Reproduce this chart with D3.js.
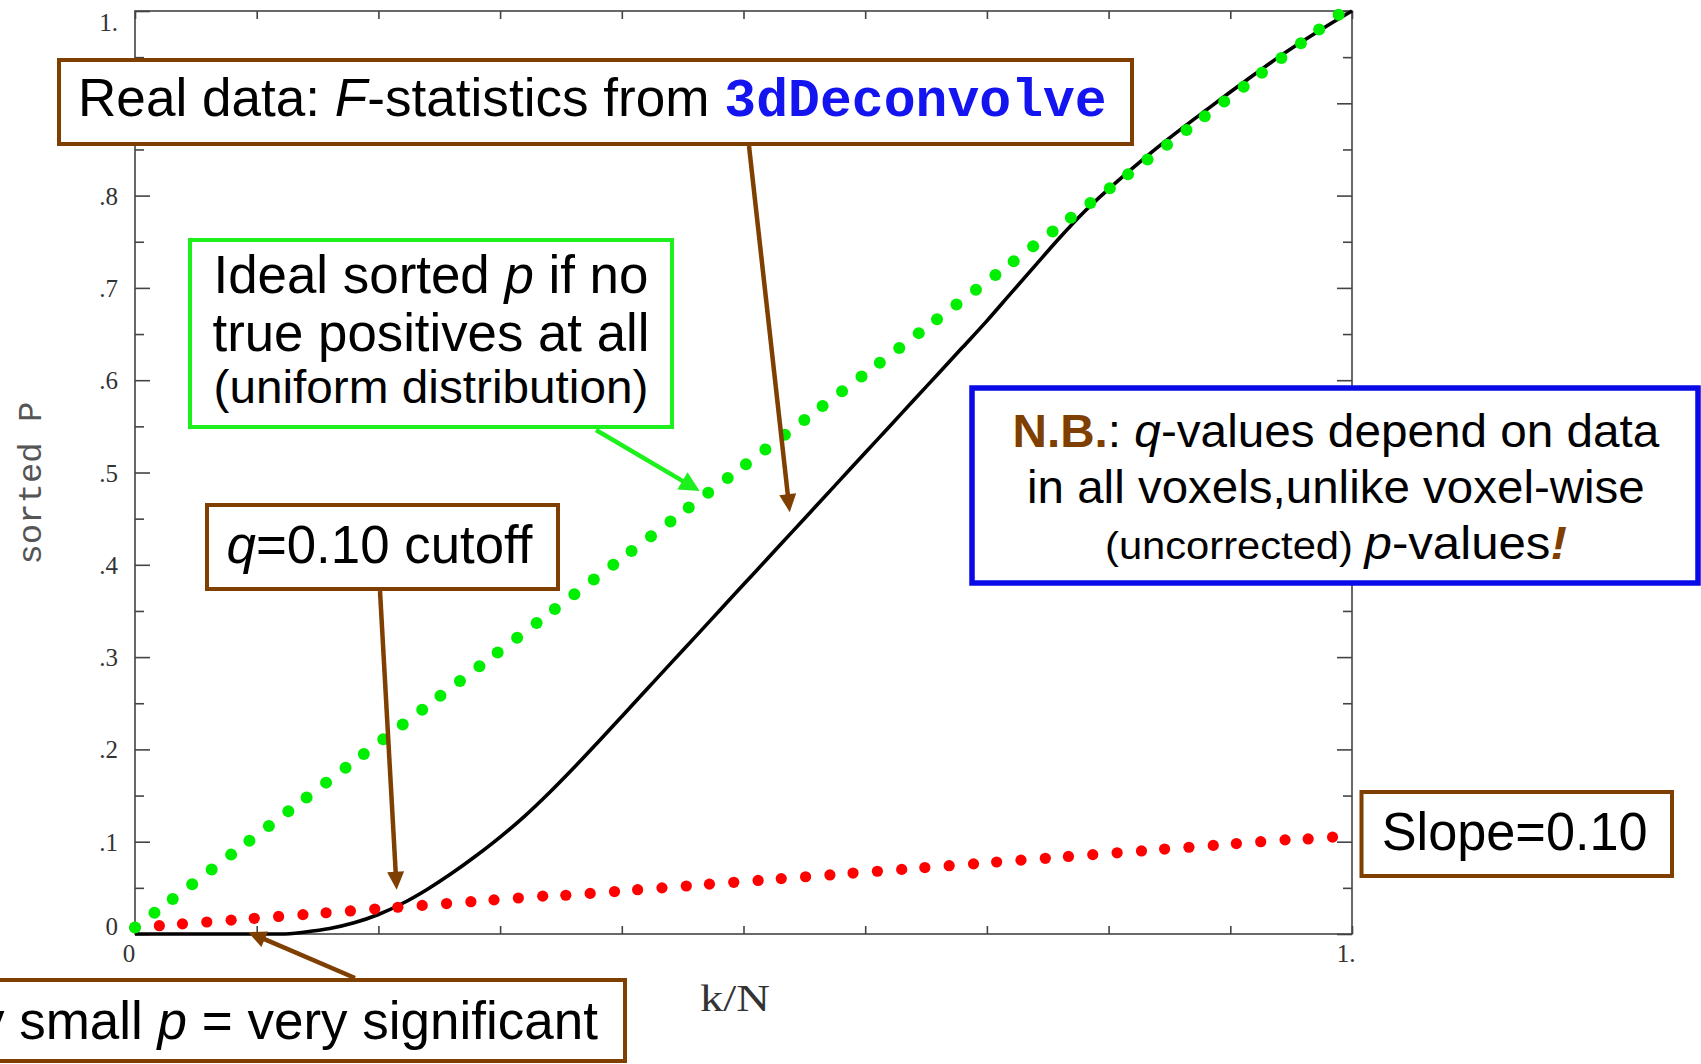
<!DOCTYPE html>
<html><head><meta charset="utf-8">
<script src="https://cdn.jsdelivr.net/npm/d3@7"></script>
<style>html,body{margin:0;padding:0;background:#fff;overflow:hidden} text{white-space:pre}</style>
</head><body>
<svg id="chart" width="1701" height="1064"></svg>
<script>
// ---------- data ----------
// real data: sorted p-values from 3dDeconvolve F-statistics (k/N, p)
const curveX = [0,0.05,0.10,0.12,0.14,0.16,0.18,0.20,0.22,0.24,0.26,0.28,0.30,0.32,0.34,0.36,0.38,0.40,0.42,0.44,0.46,0.48,0.50,0.52,0.54,0.56,0.58,0.60,0.62,0.64,0.66,0.68,0.70,0.72,0.74,0.76,0.78,0.80,0.82,0.84,0.86,0.88,0.90,0.92,0.94,0.96,0.98,1.00];
const curveY = [0,0,0,0,0.0022,0.0059,0.0121,0.0211,0.0333,0.0483,0.0655,0.0845,0.105,0.1275,0.1525,0.1793,0.2073,0.2357,0.2643,0.2929,0.3214,0.35,0.3786,0.4071,0.4357,0.4642,0.4928,0.5214,0.5499,0.5785,0.607,0.6356,0.6643,0.6946,0.7247,0.7546,0.7825,0.8070,0.8300,0.8520,0.8726,0.8925,0.9122,0.9314,0.9503,0.9677,0.9843,1.0];

// ideal sorted p (uniform distribution) - green dots
const uniformX = [0,0.016,0.031,0.047,0.063,0.079,0.094,0.110,0.126,0.141,
  0.157,0.173,0.188,0.204,0.220,0.236,0.251,0.267,0.283,0.298,
  0.314,0.330,0.345,0.361,0.377,0.393,0.408,0.424,0.440,0.455,
  0.471,0.487,0.502,0.518,0.534,0.550,0.565,0.581,0.597,0.612,
  0.628,0.644,0.659,0.675,0.691,0.707,0.722,0.738,0.754,0.769,
  0.785,0.801,0.816,0.832,0.848,0.864,0.879,0.895,0.911,0.926,
  0.942,0.958,0.973,0.989];
const uniformY = [0.007,0.023,0.038,0.054,0.070,0.086,0.101,0.117,0.133,0.148,
  0.164,0.180,0.195,0.211,0.227,0.243,0.258,0.274,0.290,0.305,
  0.321,0.337,0.352,0.368,0.384,0.400,0.415,0.431,0.447,0.462,
  0.478,0.494,0.509,0.525,0.541,0.557,0.572,0.588,0.604,0.619,
  0.635,0.651,0.666,0.682,0.698,0.714,0.729,0.745,0.761,0.776,
  0.792,0.808,0.823,0.839,0.855,0.871,0.886,0.902,0.918,0.933,
  0.949,0.965,0.980,0.996];

// q = 0.10 line (slope 0.10) - red dots
const slopeX = [0,0.020,0.039,0.059,0.079,0.098,0.118,0.138,0.157,0.177,
  0.197,0.216,0.236,0.256,0.276,0.295,0.315,0.335,0.354,0.374,
  0.394,0.413,0.433,0.453,0.472,0.492,0.512,0.531,0.551,0.571,
  0.590,0.610,0.630,0.649,0.669,0.689,0.708,0.728,0.748,0.767,
  0.787,0.807,0.827,0.846,0.866,0.886,0.905,0.925,0.945,0.964,
  0.984];
const slopeY = [0.007,0.009,0.011,0.013,0.015,0.017,0.019,0.021,0.023,0.025,
  0.027,0.029,0.031,0.033,0.035,0.037,0.039,0.041,0.042,0.044,
  0.046,0.048,0.050,0.052,0.054,0.056,0.058,0.060,0.062,0.064,
  0.066,0.068,0.070,0.072,0.074,0.076,0.078,0.080,0.082,0.084,
  0.086,0.088,0.090,0.092,0.094,0.096,0.098,0.100,0.102,0.103,
  0.105];

const yTickValues = [0,0.1,0.2,0.3,0.4,0.5,0.6,0.7,0.8,0.9,1.0];
// the .9 label is hidden under the "Real data" box in the reference
const yTickLabels = ["0",".1",".2",".3",".4",".5",".6",".7",".8","","1."];
const yMinorTicks = [0.05,0.15,0.25,0.35,0.45,0.55,0.65,0.75,0.85,0.95];
const xTickValues = [0,0.1,0.2,0.3,0.4,0.5,0.6,0.7,0.8,0.9,1.0];
const xLabelValues = [0,1.0];
const xTickLabels = ["0","1."];
const xTitle = "k/N";
const yTitle = "sorted P";

// ---------- drawing ----------
const SANS = "'Liberation Sans', Arial, sans-serif";
const SERIF = "'Liberation Serif', 'Times New Roman', serif";
const MONO = "'Liberation Mono', 'Courier New', monospace";
const BROWN = "#7f3f00", GREEN = "#00ee00", GREENBOX = "#1ef01e", BLUE = "#0a0ae8", RED = "#ff0000";

const svg = d3.select("#chart");
svg.append("rect").attr("width",1701).attr("height",1064).attr("fill","#fff");

const x = d3.scaleLinear().domain([0,1]).range([135,1352]);
const y = d3.scaleLinear().domain([0,1]).range([934,11]);

const axisCol = "#444";
const gAx = svg.append("g");
function styleAxis(g){ g.select(".domain").remove(); g.selectAll("line").attr("stroke",axisCol).attr("stroke-width",1.6); g.selectAll("text").remove(); }
gAx.append("g").attr("transform",`translate(${x(0)},0)`).call(d3.axisLeft(y).tickValues(yTickValues).tickSize(-15).tickFormat("")).call(styleAxis);
gAx.append("g").attr("transform",`translate(${x(0)},0)`).call(d3.axisLeft(y).tickValues(yMinorTicks).tickSize(-9).tickFormat("")).call(styleAxis);
gAx.append("g").attr("transform",`translate(${x(1)},0)`).call(d3.axisRight(y).tickValues(yTickValues).tickSize(-15).tickFormat("")).call(styleAxis);
gAx.append("g").attr("transform",`translate(${x(1)},0)`).call(d3.axisRight(y).tickValues(yMinorTicks).tickSize(-9).tickFormat("")).call(styleAxis);
gAx.append("g").attr("transform",`translate(0,${y(1)})`).call(d3.axisTop(x).tickValues(xTickValues).tickSize(-8).tickFormat("")).call(styleAxis);
gAx.append("g").attr("transform",`translate(0,${y(0)})`).call(d3.axisBottom(x).tickValues(xTickValues).tickSize(-8).tickFormat("")).call(styleAxis);
gAx.append("rect").attr("x",x(0)).attr("y",y(1)).attr("width",x(1)-x(0)).attr("height",y(0)-y(1))
  .attr("fill","none").attr("stroke",axisCol).attr("stroke-width",1.6);

// y tick labels
const yLab = yTickValues.map((v,i)=>({v, i, t:yTickLabels[i]})).filter(d=>d.t!=="");
gAx.selectAll("text.yl").data(yLab).enter().append("text").attr("class","yl")
  .attr("x",118).attr("y",d=> y(d.v) + (d.i===0 ? 1 : (d.i===yTickValues.length-1 ? 20 : 9)))
  .attr("text-anchor","end").style("font-family",SERIF).style("font-size","25px").attr("fill","#333")
  .text(d=>d.t);
// x tick labels
gAx.selectAll("text.xl").data(xLabelValues).enter().append("text").attr("class","xl")
  .attr("x",d=>x(d)-6).attr("y",962).attr("text-anchor","middle")
  .style("font-family",SERIF).style("font-size","25px").attr("fill","#333")
  .text((d,i)=>xTickLabels[i]);

// axis titles
const xt = svg.append("text").style("font-family",SERIF).style("font-size","38px").attr("fill","#333").text(xTitle);
{ const w = xt.node().getComputedTextLength(); const sx = 70/w; xt.attr("transform",`translate(${735-35},1011) scale(${sx},1)`); }
const yt = svg.append("text").style("font-family",MONO).style("font-size","33px").attr("fill","#555").text(yTitle);
{ const w = yt.node().getComputedTextLength(); const sx = 163/w; yt.attr("transform",`translate(41,${483+81.5}) rotate(-90) scale(${sx},1)`); }

// real data curve
const pts = curveX.map((v,i)=>[v,curveY[i]]);
svg.append("path").datum(pts).attr("fill","none").attr("stroke","#000").attr("stroke-width",3.6)
  .attr("stroke-linejoin","round").attr("d", d3.line().x(d=>x(d[0])).y(d=>y(d[1])).curve(d3.curveMonotoneX));

// red dots
svg.append("g").selectAll("circle").data(slopeX.map((v,i)=>[v,slopeY[i]])).enter().append("circle")
  .attr("cx",d=>x(d[0])).attr("cy",d=>y(d[1])).attr("r",5.6).attr("fill",RED);
// green dots
svg.append("g").selectAll("circle").data(uniformX.map((v,i)=>[v,uniformY[i]])).enter().append("circle")
  .attr("cx",d=>x(d[0])).attr("cy",d=>y(d[1])).attr("r",6).attr("fill",GREEN);

// ---------- annotations ----------
function arrow(x1,y1,x2,y2,color,w,hl,hw){
  const dx=x2-x1, dy=y2-y1, L=Math.hypot(dx,dy), ux=dx/L, uy=dy/L;
  const bx=x2-ux*hl, by=y2-uy*hl;
  svg.append("line").attr("x1",x1).attr("y1",y1).attr("x2",bx+ux*1).attr("y2",by+uy*1)
    .attr("stroke",color).attr("stroke-width",w);
  svg.append("path").attr("d",`M${x2},${y2} L${bx-uy*hw/2},${by+ux*hw/2} L${bx+uy*hw/2},${by-ux*hw/2} Z`).attr("fill",color);
}
arrow(749,146, x(0.538), y(0.457), BROWN, 4.5, 18, 17);
arrow(596,430, x(0.464), y(0.480), GREENBOX, 4.5, 20, 20);
arrow(380,591, x(0.215), y(0.048), BROWN, 4.5, 18, 17);
arrow(355,978, x(0.093), y(0.002), BROWN, 4.5, 18, 17);

function box(bx,by,bw,bh,color,sw){
  svg.append("rect").attr("x",bx).attr("y",by).attr("width",bw).attr("height",bh)
    .attr("fill","#fff").attr("stroke",color).attr("stroke-width",sw);
}
function addText(segs, o){
  const t = svg.append("text").attr("x",0).attr("y",0).style("font-family",SANS).style("font-size",o.size+"px").attr("fill","#000");
  segs.forEach(s=>{
    const ts = t.append("tspan").text(s.t);
    if (s.i) ts.style("font-style","italic");
    if (s.b) ts.style("font-weight","bold");
    if (s.fill) ts.attr("fill",s.fill);
    if (s.fam) ts.style("font-family",s.fam);
    if (s.size) ts.style("font-size",s.size+"px");
  });
  const w = t.node().getComputedTextLength();
  const sx = o.width ? o.width/w : 1;
  const W = w*sx;
  const x0 = o.anchor==="middle" ? o.x-W/2 : (o.anchor==="end" ? o.x-W : o.x);
  t.attr("transform",`translate(${x0},${o.y}) scale(${sx},1)`);
}

// Real data box
box(59,60,1073,84,BROWN,4);
addText([{t:"Real data: "},{t:"F",i:1},{t:"-statistics from "},{t:"3dDeconvolve",b:1,fam:MONO,fill:"#1414f0"}],
  {x:78,y:116,size:53,width:1029,anchor:"start"});

// Green box
box(190,240,482,187,GREENBOX,4);
addText([{t:"Ideal sorted "},{t:"p",i:1},{t:" if no"}],{x:431,y:293,size:53,width:435,anchor:"middle"});
addText([{t:"true positives at all"}],{x:431,y:351,size:53,width:437,anchor:"middle"});
addText([{t:"(uniform distribution)"}],{x:431,y:403,size:47,width:435,anchor:"middle"});

// q cutoff box
box(207,505,351,84,BROWN,4);
addText([{t:"q",i:1},{t:"=0.10 cutoff"}],{x:226.5,y:563,size:53,width:306,anchor:"start"});

// N.B. box
box(972,388,726,195,BLUE,5.5);
addText([{t:"N.B.",b:1,fill:BROWN},{t:": "},{t:"q",i:1},{t:"-values depend on data"}],{x:1336,y:447,size:46,width:647,anchor:"middle"});
addText([{t:"in all voxels,unlike voxel-wise"}],{x:1336,y:502.5,size:46,width:618,anchor:"middle"});
addText([{t:"(uncorrected) ",size:39},{t:"p",i:1},{t:"-values"},{t:"!",b:1,i:1,fill:BROWN}],{x:1336,y:559,size:46,width:462,anchor:"middle"});

// Slope box
box(1361.5,792,310.5,84,BROWN,4);
addText([{t:"Slope=0.10"}],{x:1381.7,y:850,size:53,width:266,anchor:"start"});

// very small p box (cut off at the left edge, as in the reference)
box(-20,980,645,81,BROWN,4);
addText([{t:"Very small "},{t:"p",i:1},{t:" = very significant"}],{x:598,y:1039,size:53,anchor:"end"});
</script>
</body></html>
